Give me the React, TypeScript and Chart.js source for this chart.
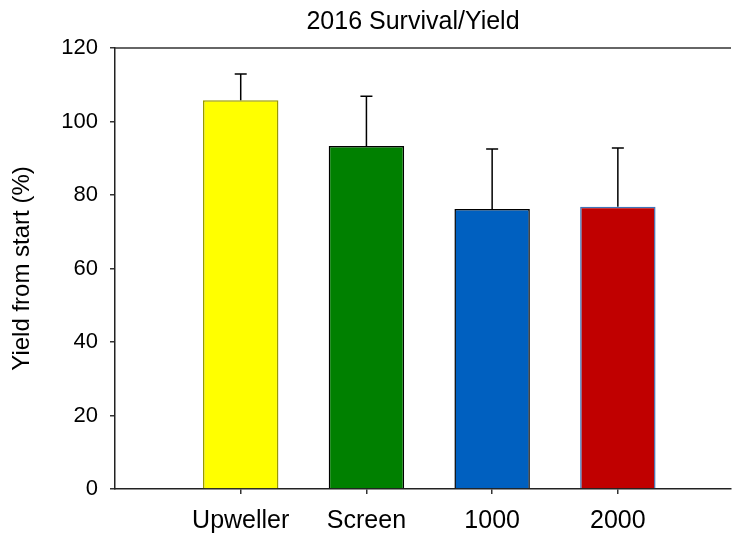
import React, { useEffect, useRef } from "react";
import { Chart, registerables } from "chart.js";

Chart.register(...registerables);

const categories = ["Upweller", "Screen", "1000", "2000"];
const positions = [1, 2, 3, 4];
const yieldValues = [105.8, 93.3, 76.2, 76.8];
const errorValues = [7.1, 13.6, 16.3, 16.0];
const fillColors = ["#FFFF00", "#008000", "#0060C0", "#C00000"];
const edgeColors = ["#999900", "#000000", "#000000", "#3F74B8"];
const yTicks = [0, 20, 40, 60, 80, 100, 120];
const chartTitle = "2016 Survival/Yield";

const FONT = "'Liberation Sans', Arial, sans-serif";

const errorBarPlugin = {
  id: "errorBars",
  afterDatasetsDraw(chart: any) {
    const ctx = chart.ctx;
    const meta = chart.getDatasetMeta(0);
    const yScale = chart.scales.y;
    ctx.save();
    ctx.strokeStyle = "#000";
    ctx.lineWidth = 1.5;
    meta.data.forEach((el: any, i: number) => {
      const x = el.x;
      const yTop = yScale.getPixelForValue(yieldValues[i] + errorValues[i]);
      ctx.beginPath();
      ctx.moveTo(x, el.y);
      ctx.lineTo(x, yTop);
      ctx.moveTo(x - 6, yTop);
      ctx.lineTo(x + 6, yTop);
      ctx.stroke();
    });
    const ca = chart.chartArea;
    ctx.strokeStyle = "#333";
    ctx.lineWidth = 1.5;
    ctx.beginPath();
    ctx.moveTo(ca.left, ca.top);
    ctx.lineTo(ca.right, ca.top);
    ctx.stroke();
    // chart title, centred over the plot
    ctx.fillStyle = "#000";
    ctx.font = `25px ${FONT}`;
    ctx.textAlign = "center";
    ctx.textBaseline = "middle";
    ctx.fillText(chartTitle, (ca.left + ca.right) / 2 - 10, 22);
    ctx.restore();
  },
};

export default function App() {
  const ref = useRef<HTMLCanvasElement | null>(null);
  useEffect(() => {
    document.body.style.margin = "0";
    const canvas = ref.current;
    if (!canvas) return;
    const chart = new Chart(canvas, {
      type: "bar",
      data: {
        datasets: [
          {
            data: positions.map((p, i) => ({ x: p, y: yieldValues[i] })),
            backgroundColor: fillColors,
            borderColor: edgeColors,
            borderWidth: 1.5,
            barPercentage: 0.6,
            categoryPercentage: 1,
          },
        ],
      },
      plugins: [errorBarPlugin],
      options: {
        animation: false,
        responsive: true,
        maintainAspectRatio: false,
        layout: { padding: { left: 0, right: 1, top: 48, bottom: 0 } },
        plugins: {
          legend: { display: false },
          tooltip: { enabled: false },
          title: { display: false },
        },
        scales: {
          x: {
            type: "linear",
            offset: false,
            min: 0,
            max: 4.9,
            afterBuildTicks: (scale: any) => {
              scale.ticks = positions.map((v) => ({ value: v }));
            },
            afterFit: (scale: any) => {
              scale.height = 46;
            },
            ticks: {
              color: "#000",
              font: { family: FONT, size: 25 },
              padding: 12,
              maxRotation: 0,
              autoSkip: false,
              callback: (v: any) => categories[positions.indexOf(Number(v))] ?? "",
            },
            grid: {
              offset: false,
              drawOnChartArea: false,
              drawTicks: true,
              tickLength: 5,
              color: "#333",
              lineWidth: 1.5,
            },
            border: { display: true, color: "#222", width: 1.5 },
          },
          y: {
            type: "linear",
            min: 0,
            max: 120,
            afterBuildTicks: (scale: any) => {
              scale.ticks = yTicks.map((v) => ({ value: v }));
            },
            afterFit: (scale: any) => {
              scale.width = 115;
            },
            ticks: {
              color: "#000",
              font: { family: FONT, size: 22 },
              padding: 12,
            },
            grid: {
              drawOnChartArea: false,
              drawTicks: true,
              tickLength: 5,
              color: "#333",
              lineWidth: 1.5,
            },
            border: { display: true, color: "#222", width: 1.5 },
            title: {
              display: true,
              text: "Yield from start (%)",
              color: "#000",
              font: { family: FONT, size: 24 },
              padding: { top: 8, bottom: 0 },
            },
          },
        },
      },
    } as any);
    return () => chart.destroy();
  }, []);
  return (
    <div style={{ position: "relative", width: 732, height: 535 }}>
      <canvas ref={ref} />
    </div>
  );
}
